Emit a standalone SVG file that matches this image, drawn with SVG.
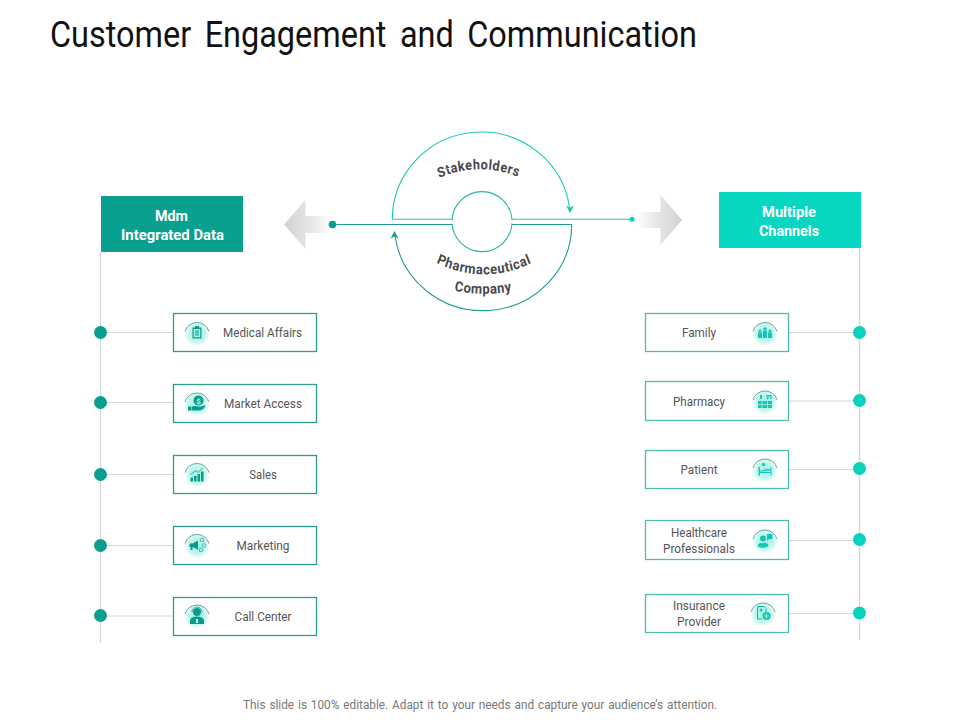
<svg xmlns="http://www.w3.org/2000/svg" width="960" height="720" viewBox="0 0 960 720">
<style>
text{font-family:Roboto,"Liberation Sans",sans-serif}
.lbl{font-size:12.5px;fill:#555;text-anchor:middle}
.hd{font-size:14px;font-weight:700;fill:#fff;text-anchor:middle}
.cv{font-size:14px;font-weight:700;fill:#45484b;text-anchor:middle}
.g{fill:none;stroke:#d4d6d6;stroke-width:1.2}
.ba{fill:#fff;stroke:#2a9d8f;stroke-width:1.3}
.bb{fill:#fff;stroke:#4dbfb1;stroke-width:1.3}
.da{fill:#0a9e8e}
.db{fill:#07d3bd}
.ia{fill:#0c9a8b}
.ib{fill:#10c9b5}
.arc{fill:none;stroke:#4f8f88;stroke-width:.8}
.glow{fill:url(#glow)}
</style>
<defs>
<radialGradient id="glow"><stop offset="0" stop-color="#9ff0e6"/><stop offset=".65" stop-color="#c4f6ef"/><stop offset="1" stop-color="#fff"/></radialGradient>
<linearGradient id="gl" x1="0" x2="1" y1="0" y2="0"><stop offset="0" stop-color="#d2d2d2"/><stop offset=".55" stop-color="#e6e6e6"/><stop offset="1" stop-color="#fff"/></linearGradient>
<linearGradient id="gr" x1="1" x2="0" y1="0" y2="0"><stop offset="0" stop-color="#d2d2d2"/><stop offset=".55" stop-color="#e6e6e6"/><stop offset="1" stop-color="#fff"/></linearGradient>
<g id="badge"><circle class="glow" cx="0" cy="1" r="13"/><path class="arc" d="M-12 -1A12.500 12.500 0 0 1 12 -1"/></g>
<path id="cS" d="M415 188A122 122 0 0 1 545 188"/>
<path id="cP" d="M415 253A122 122 0 0 0 553 253"/>
<path id="cC" d="M440 288A170 170 0 0 0 528 288"/>
</defs>
<text x="50" y="47" font-size="36" fill="#111" word-spacing="6" textLength="647" lengthAdjust="spacingAndGlyphs">Customer Engagement and Communication</text>

<g id="arrow-left"><path fill="url(#gl)" d="M284 224.500L305.500 200V216H332V233H305.500V249Z"/></g>
<g id="arrow-right"><path fill="url(#gr)" d="M682 220L660.500 195V212H636V228H660.500V245Z"/></g>

<g id="connectors">
<path class="g" d="M100.500 252V643M859.700 248V640"/>
<path class="g" d="M100 332.500H173M100 402.500H173M100 474.500H173M100 545.500H173M100 616H173"/>
<path class="g" d="M789 332.500H859M789 401H859M789 469.500H859M789 540.500H859M789 613.500H859"/>
<g fill="none" stroke-width="1.100">
<path stroke="#1cc7b4" d="M452 219.300H392.300A89 87.300 0 0 1 569.400 207"/>
<path stroke="#1cc7b4" d="M512 219.300H632"/>
<path stroke="#1f9d90" d="M452 224.500H333"/>
<path stroke="#1f9d90" d="M512 224.500H571.700A88.700 86.200 0 0 1 395.100 236"/>
</g>
<path fill="#1cc7b4" d="M570 213L566 205.500L570 207.500L574 205.500Z"/>
<path fill="#1f9d90" d="M394.500 231L398.500 238.500L394.500 236.500L390.500 238.500Z"/>
<circle class="da" cx="332.500" cy="224.500" r="3.800"/>
<circle class="db" cx="632" cy="219.300" r="2.500"/>
</g>

<g id="cycle">
<circle cx="482" cy="221.600" r="30" fill="#fff" stroke="#25b5a6" stroke-width="1.100"/>
<path fill="#fff" d="M449 220.200h6v3.400h-6zM509 220.200h6v3.400h-6z"/>
<text class="cv" letter-spacing=".6" transform="translate(479 0) scale(.9 1) translate(-479 0)"><textPath href="#cS" startOffset="49%">Stakeholders</textPath></text>
<text class="cv" letter-spacing=".6" transform="translate(484 0) scale(.92 1) translate(-484 0)"><textPath href="#cP" startOffset="50%">Pharmaceutical</textPath></text>
<text class="cv" letter-spacing=".5" transform="translate(484 0) scale(.92 1) translate(-484 0)"><textPath href="#cC" startOffset="49%">Company</textPath></text>
</g>

<g id="header-left"><rect x="101" y="196" width="142" height="56" fill="#0aa090"/><text class="hd" x="171.500" y="221" textLength="33" lengthAdjust="spacingAndGlyphs">Mdm</text><text class="hd" x="172.500" y="240" textLength="103" lengthAdjust="spacingAndGlyphs">Integrated Data</text></g>
<g id="header-right"><rect x="719" y="192" width="142" height="56" fill="#07d6c0"/><text class="hd" x="789" y="217" textLength="54" lengthAdjust="spacingAndGlyphs">Multiple</text><text class="hd" x="789" y="236" textLength="60" lengthAdjust="spacingAndGlyphs">Channels</text></g>

<g id="medical-affairs"><circle class="da" cx="100.500" cy="332.500" r="6.500"/><rect class="ba" x="173.500" y="313.500" width="143" height="38"/>
<g transform="translate(197 332.500)"><use href="#badge"/><path class="ia" fill-rule="evenodd" d="M-4.500 -5H-2V-6.500H2V-5H4.500V6H-4.500ZM-3.300 -3.500V4.800H3.300V-3.500Z"/><path class="ia" d="M-2 -2h4v1h-4zM-2 0h4v1h-4zM-2 2h4v1h-4z"/></g>
<text class="lbl" x="262.500" y="337" textLength="79" lengthAdjust="spacingAndGlyphs">Medical Affairs</text></g>

<g id="market-access"><circle class="da" cx="100.500" cy="402.500" r="6.500"/><rect class="ba" x="173.500" y="384.500" width="143" height="38"/>
<g transform="translate(197 403)"><use href="#badge"/><circle class="ia" cx="1.500" cy="-2.500" r="5"/><path class="ia" d="M-9 3.500H-5.500V7.500H-9ZM-5 3.500C-2 2 0 4 4 3.500L8 2C8.500 5 5 7.500 2 7.500H-5Z"/><text x="1.500" y="0.500" font-size="8" font-weight="700" fill="#c8f5ee" text-anchor="middle">$</text></g>
<text class="lbl" x="263" y="408" textLength="78" lengthAdjust="spacingAndGlyphs">Market Access</text></g>

<g id="sales"><circle class="da" cx="100.500" cy="474.500" r="6.500"/><rect class="ba" x="173.500" y="455.500" width="143" height="38"/>
<g transform="translate(197 473.500)"><use href="#badge"/><path class="ia" d="M-6.500 4H-4V8H-6.500ZM-3 2.500H-.5V8H-3ZM.5 0.500H3V8H.5ZM4 -2H6.500V8H4Z"/><path d="M-6.500 1L-1 -3L1 -1L6 -6" fill="none" stroke="#0c9a8b" stroke-width=".8"/></g>
<text class="lbl" x="263" y="479" textLength="27.500" lengthAdjust="spacingAndGlyphs">Sales</text></g>

<g id="marketing"><circle class="da" cx="100.500" cy="545.500" r="6.500"/><rect class="ba" x="173.500" y="526.500" width="143" height="38"/>
<g transform="translate(197 544.500)"><use href="#badge"/><path class="ia" d="M-7.500 -1H-4.500L1 -4V5L-4.500 2.500V5.500H-6.500V2.500H-7.500Z"/><g fill="none" stroke="#2bb5a6" stroke-width=".9"><circle cx="5" cy="-4.500" r="1.800"/><circle cx="7" cy="1" r="1.800"/><circle cx="4" cy="5.500" r="1.800"/></g></g>
<text class="lbl" x="263" y="550" textLength="53" lengthAdjust="spacingAndGlyphs">Marketing</text></g>

<g id="call-center"><circle class="da" cx="100.500" cy="615.500" r="6.500"/><rect class="ba" x="173.500" y="597.500" width="143" height="38"/>
<g transform="translate(197 615)"><use href="#badge"/><circle class="ia" cx="0" cy="-3" r="4"/><path class="ia" d="M-7 9V6C-7 2.500 -3 1.500 0 1.500S7 2.500 7 6V9Z"/><path fill="none" stroke="#0c9a8b" stroke-width=".8" d="M-5 -3A5 5 0 0 1 5 -3"/><rect x="-1" y="4" width="2" height="4" fill="#c8f5ee"/></g>
<text class="lbl" x="263" y="621" textLength="57" lengthAdjust="spacingAndGlyphs">Call Center</text></g>

<g id="family"><circle class="db" cx="859.500" cy="332.500" r="6.500"/><rect class="bb" x="645.500" y="313.500" width="143" height="38"/>
<g transform="translate(765 332.500)"><use href="#badge"/><g class="ib"><circle cx="-5" cy="-1.500" r="1.500"/><circle cx="0" cy="-3.500" r="1.700"/><circle cx="5" cy="-1.500" r="1.500"/><path d="M-7 0H-3V5.500H-7ZM-2 -1.500H2V5.500H-2ZM3 0H7V5.500H3Z"/></g></g>
<text class="lbl" x="699" y="337" textLength="34" lengthAdjust="spacingAndGlyphs">Family</text></g>

<g id="pharmacy"><circle class="db" cx="859.500" cy="400.500" r="6.500"/><rect class="bb" x="645.500" y="381.500" width="143" height="39"/>
<g transform="translate(765 401)"><use href="#badge"/><g class="ib"><path d="M-7 0H7V7H-7Z"/><path d="M-5 -6h2v4h-2zM1 -6h6v1.500h-6zM2 -4h1.500v2h-1.500zM5 -4h1.500v2h-1.500z"/></g><path d="M-7 3.500H7M-3 0V7M2.500 0V7" stroke="#c8f5ee" stroke-width=".7"/></g>
<text class="lbl" x="699" y="406" textLength="52" lengthAdjust="spacingAndGlyphs">Pharmacy</text></g>

<g id="patient"><circle class="db" cx="859.500" cy="468.500" r="6.500"/><rect class="bb" x="645.500" y="450.500" width="143" height="38"/>
<g transform="translate(765 469)"><use href="#badge"/><g class="ib"><circle cx="-1.500" cy="-4.500" r="1.700"/><path d="M-6.500 -2H-5V1.500H-2L1 0H5.500V-2H6.500V6.500H5.500V4H-5V6.500H-6.500ZM-5 2.500V3H5.500V1.500H1.500L-1.500 2.500Z"/></g></g>
<text class="lbl" x="699" y="474" textLength="37" lengthAdjust="spacingAndGlyphs">Patient</text></g>

<g id="healthcare-professionals"><circle class="db" cx="859.500" cy="539.500" r="6.500"/><rect class="bb" x="645.500" y="520.500" width="143" height="39"/>
<g transform="translate(765 540)"><use href="#badge"/><g class="ib"><circle cx="-2" cy="-1.500" r="3"/><path d="M2 -6H7.500V-1H4L2 1Z"/><path d="M-7 6C-7 3 -4 2.500 -3 3.500C-1 2 3 2.500 3.500 5.500C2 8.500 -6 8.500 -7 6Z"/></g></g>
<text class="lbl" x="699" y="537" textLength="56" lengthAdjust="spacingAndGlyphs">Healthcare</text><text class="lbl" x="699" y="553" textLength="72" lengthAdjust="spacingAndGlyphs">Professionals</text></g>

<g id="insurance-provider"><circle class="db" cx="859.500" cy="613" r="6.500"/><rect class="bb" x="645.500" y="594.500" width="143" height="38"/>
<g transform="translate(763 613)"><use href="#badge"/><path fill="none" stroke="#10b9a6" stroke-width="1" d="M-5.500 -6.500H1L3 -4.500V-1M-5.500 -6.500V6H-1"/><circle class="ib" cx="-2" cy="-3" r="1.500"/><circle class="ib" cx="3.500" cy="3" r="4"/><path d="M1 3H6M3.500 .5V5.500" stroke="#d4f7f2" stroke-width=".7"/></g>
<text class="lbl" x="699" y="610" textLength="52" lengthAdjust="spacingAndGlyphs">Insurance</text><text class="lbl" x="699" y="626" textLength="44" lengthAdjust="spacingAndGlyphs">Provider</text></g>

<text x="480" y="709" font-size="12" fill="#777" text-anchor="middle" word-spacing="1" textLength="474" lengthAdjust="spacingAndGlyphs">This slide is 100% editable. Adapt it to your needs and capture your audience’s attention.</text>
</svg>
